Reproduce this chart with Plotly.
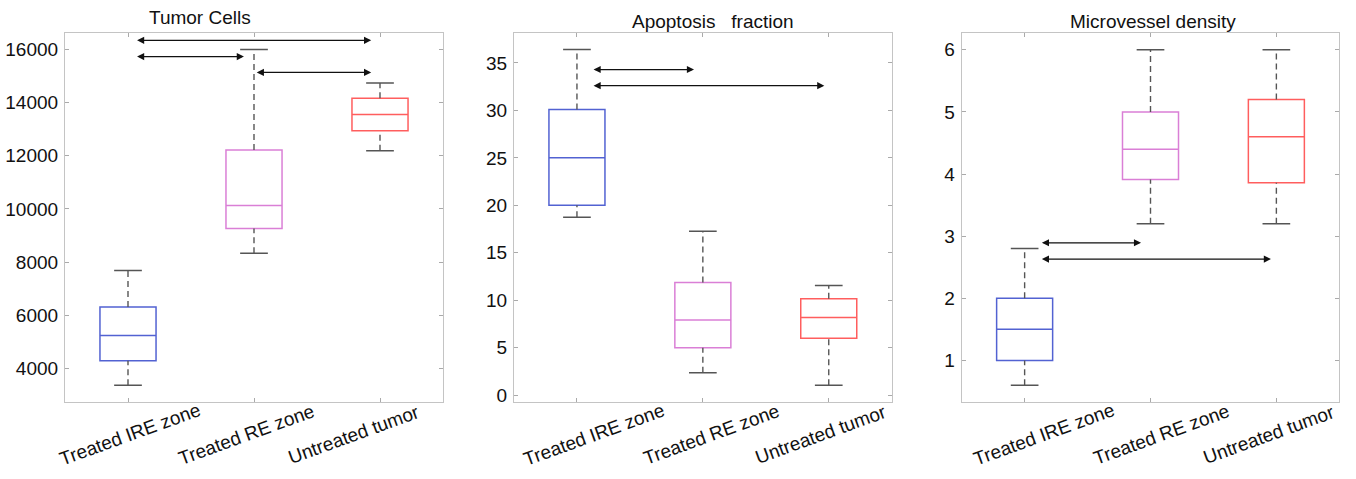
import plotly.graph_objects as go

W, H = 1356, 479

categories = ["Treated IRE zone", "Treated RE zone", "Untreated tumor"]
box_colors = ["#5262d2", "#da7fd6", "#ff5e5e"]

titles = ["Tumor Cells", "Apoptosis\u00a0\u00a0\u00a0fraction", "Microvessel density"]

# Panel 1: Tumor Cells
tc_lower = [3370, 8330, 12180]
tc_q1 = [4290, 9260, 12935]
tc_median = [5235, 10130, 13550]
tc_q3 = [6305, 12210, 14155]
tc_upper = [7680, 15990, 14730]

# Panel 2: Apoptosis fraction
ap_lower = [18.75, 2.37, 1.05]
ap_q1 = [20.0, 5.0, 6.0]
ap_median = [25.0, 7.92, 8.2]
ap_q3 = [30.1, 11.87, 10.15]
ap_upper = [36.4, 17.27, 11.55]

# Panel 3: Microvessel density
mv_lower = [0.6, 3.2, 3.2]
mv_q1 = [1.0, 3.91, 3.86]
mv_median = [1.5, 4.4, 4.6]
mv_q3 = [2.0, 5.0, 5.2]
mv_upper = [2.8, 6.0, 6.0]

# Significance arrows: (x_start, x_end, y)
tc_arrows_x0 = [1.06, 1.06, 2.01]
tc_arrows_x1 = [2.93, 1.92, 2.93]
tc_arrows_y = [16335, 15725, 15130]

ap_arrows_x0 = [1.12, 1.12]
ap_arrows_x1 = [1.93, 2.965]
ap_arrows_y = [34.3, 32.6]

mv_arrows_x0 = [1.125, 1.125]
mv_arrows_x1 = [1.925, 2.957]
mv_arrows_y = [2.893, 2.631]

y_ranges = [[2720, 16620], [-0.76, 38.17], [0.323, 6.273]]
y_ticks = [list(range(4000, 16001, 2000)), list(range(0, 36, 5)), [1, 2, 3, 4, 5, 6]]

panels = [
    dict(lower=tc_lower, q1=tc_q1, med=tc_median, q3=tc_q3, upper=tc_upper,
         ax0=tc_arrows_x0, ax1=tc_arrows_x1, ay=tc_arrows_y),
    dict(lower=ap_lower, q1=ap_q1, med=ap_median, q3=ap_q3, upper=ap_upper,
         ax0=ap_arrows_x0, ax1=ap_arrows_x1, ay=ap_arrows_y),
    dict(lower=mv_lower, q1=mv_q1, med=mv_median, q3=mv_q3, upper=mv_upper,
         ax0=mv_arrows_x0, ax1=mv_arrows_x1, ay=mv_arrows_y),
]

# layout geometry (pixels)
x_px = [(65, 443), (514, 891.7), (961.7, 1339.3)]
y_px = (33, 405)
title_px = [(200, 18), (713, 21.7), (1153, 21.7)]
label_shift = [[1.5, -7.3, -26], [17.5, 8.5, -8], [19, 11, -7]]
label_y_px = 437.5

FONT = "Liberation Sans, Arial, sans-serif"
whisker_color = "#555555"
frame_color = "#c4c4c4"

fig = go.Figure()
annotations = []
layout_axes = {}

for p, pan in enumerate(panels):
    xa = "x" if p == 0 else f"x{p+1}"
    ya = "y" if p == 0 else f"y{p+1}"
    pos = [i + 1 for i in range(len(categories))]
    for i, cat in enumerate(categories):
        x = pos[i]
        # dashed whisker stems
        fig.add_trace(go.Scatter(
            x=[x, x, None, x, x],
            y=[pan["q3"][i], pan["upper"][i], None, pan["lower"][i], pan["q1"][i]],
            mode="lines", line=dict(color=whisker_color, width=1.4, dash="6px,4px"),
            xaxis=xa, yaxis=ya, showlegend=False, hoverinfo="skip"))
        # caps
        fig.add_trace(go.Scatter(
            x=[x - 0.11, x + 0.11, None, x - 0.11, x + 0.11],
            y=[pan["upper"][i], pan["upper"][i], None, pan["lower"][i], pan["lower"][i]],
            mode="lines", line=dict(color=whisker_color, width=1.5),
            xaxis=xa, yaxis=ya, showlegend=False, hoverinfo="skip"))
        # box
        fig.add_trace(go.Box(
            x=[x], q1=[pan["q1"][i]], median=[pan["med"][i]], q3=[pan["q3"][i]],
            lowerfence=[pan["q1"][i]], upperfence=[pan["q3"][i]],
            width=0.445, whiskerwidth=0, fillcolor="rgba(255,255,255,0)",
            line=dict(color=box_colors[i], width=1.5),
            xaxis=xa, yaxis=ya, showlegend=False, name=cat, boxpoints=False))
        # category label
        annotations.append(dict(
            text=cat, x=x, xref=xa, y=1 - label_y_px / H, yref="paper",
            xanchor="center", yanchor="middle", textangle=-20, showarrow=False,
            xshift=label_shift[p][i], font=dict(family=FONT, size=19, color="#111111")))
    # arrows
    for k in range(len(pan["ay"])):
        annotations.append(dict(
            x=pan["ax1"][k], y=pan["ay"][k], ax=pan["ax0"][k], ay=pan["ay"][k],
            xref=xa, yref=ya, axref=xa, ayref=ya, text="", showarrow=True,
            arrowhead=2, startarrowhead=2, arrowside="end+start",
            arrowsize=1.1, startarrowsize=1.1, arrowwidth=1.3, arrowcolor="#111111"))
    # title
    annotations.append(dict(
        text=titles[p], x=title_px[p][0] / W, y=1 - title_px[p][1] / H,
        xref="paper", yref="paper", xanchor="center", yanchor="middle",
        showarrow=False, font=dict(family=FONT, size=19, color="#111111")))

    suffix = "" if p == 0 else str(p + 1)
    common = dict(showline=True, linecolor=frame_color, linewidth=1.2, mirror="ticks",
                  ticks="inside", ticklen=4, tickcolor="#aaaaaa", tickwidth=1,
                  showgrid=False, zeroline=False)
    layout_axes["xaxis" + suffix] = dict(
        domain=[x_px[p][0] / W, x_px[p][1] / W], range=[0.5, 3.5],
        tickvals=[1, 2, 3], showticklabels=False, anchor=ya, **common)
    layout_axes["yaxis" + suffix] = dict(
        domain=[1 - y_px[1] / H, 1 - y_px[0] / H], range=y_ranges[p],
        tickvals=y_ticks[p], anchor=xa, ticklabelstandoff=2, tickformat="d",
        tickfont=dict(family=FONT, size=19, color="#111111"), **common)

fig.update_layout(
    width=W, height=H, margin=dict(l=0, r=0, t=0, b=0),
    paper_bgcolor="white", plot_bgcolor="white",
    annotations=annotations, showlegend=False, **layout_axes)

fig.write_html("out.html")
